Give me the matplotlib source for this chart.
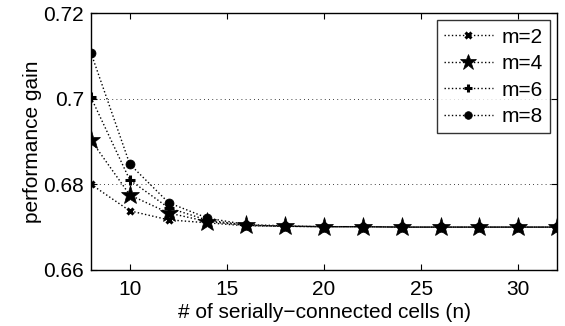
import matplotlib
matplotlib.use("Agg")
import matplotlib.pyplot as plt

plt.rcParams['font.family'] = ['Liberation Sans', 'DejaVu Sans']

n = [8, 10, 12, 14, 16, 18, 20, 22, 24, 26, 28, 30, 32]
m2 = [0.6800, 0.6738, 0.6717, 0.6710, 0.6703, 0.6702, 0.6701, 0.6701, 0.6700, 0.6700, 0.6700, 0.6700, 0.6700]
m4 = [0.6903, 0.6775, 0.6733, 0.6713, 0.6704, 0.6702, 0.6701, 0.6701, 0.6700, 0.6700, 0.6700, 0.6700, 0.6700]
m6 = [0.7003, 0.6810, 0.6745, 0.6716, 0.6705, 0.6702, 0.6701, 0.6701, 0.6700, 0.6700, 0.6700, 0.6700, 0.6700]
m8 = [0.7107, 0.6847, 0.6757, 0.6721, 0.6706, 0.6703, 0.6701, 0.6701, 0.6700, 0.6700, 0.6700, 0.6700, 0.6700]
labels = ['m=2', 'm=4', 'm=6', 'm=8']

FS = 15

fig = plt.figure(figsize=(5.65, 3.26), dpi=100)
ax = fig.add_axes([0.161, 0.172, 0.825, 0.788])

styles = [dict(marker='x', markersize=5, mew=2.2),
          dict(marker='*', markersize=14, mew=0.5),
          dict(marker='+', markersize=7, mew=2.2),
          dict(marker='o', markersize=6.5, mew=0.5)]
for ys, lab, st in zip([m2, m4, m6, m8], labels, styles):
    ax.plot(n, ys, linestyle=':', color='black', lw=1.0, label=lab,
            markerfacecolor='black', markeredgecolor='black', **st)

ax.set_xlim(8, 32)
ax.set_ylim(0.66, 0.72)
ax.set_xticks([10, 15, 20, 25, 30])
ax.set_yticks([0.66, 0.68, 0.70, 0.72])
ax.set_yticklabels(['0.66', '0.68', '0.7', '0.72'])
ax.yaxis.grid(True, linestyle=(0, (1, 4)), color='black', lw=0.6)
ax.tick_params(direction='in', top=True, right=True, labelsize=FS, length=4)
ax.tick_params(axis='x', pad=7)
ax.tick_params(axis='y', pad=5)
for s in ax.spines.values():
    s.set_linewidth(1.0)
ax.set_xlabel('# of serially\u2212connected cells (n)', fontsize=FS, labelpad=3)
ax.set_ylabel('performance gain', fontsize=FS, labelpad=1)

leg = ax.legend(loc='upper right', fontsize=FS, frameon=True, fancybox=False,
                edgecolor='black', handlelength=2.35, borderpad=0.35,
                labelspacing=0.36, handletextpad=0.4, borderaxespad=0.35,
                markerscale=0.85)
leg.get_frame().set_linewidth(1.0)

fig.savefig('out.png', dpi=100)
